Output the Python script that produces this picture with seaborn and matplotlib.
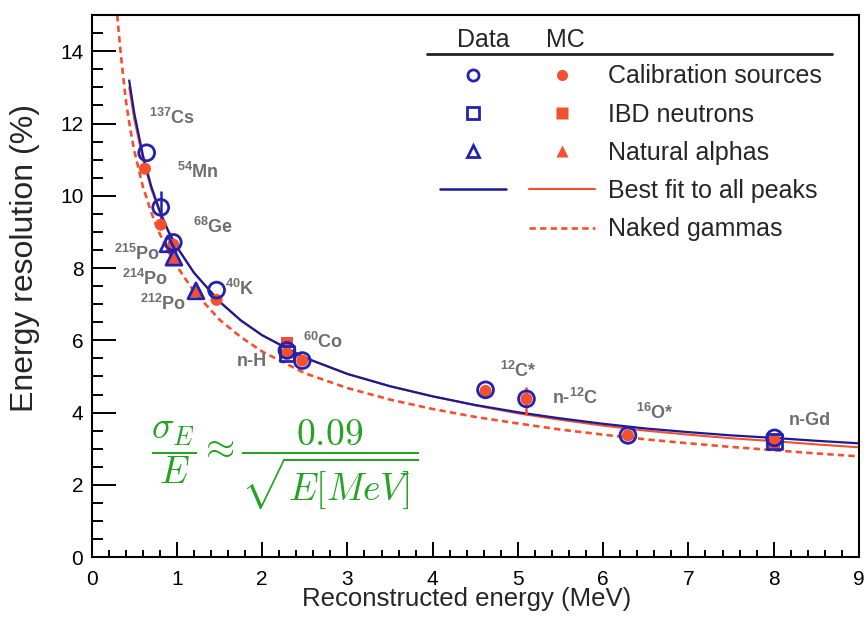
import numpy as np
import pandas as pd
import matplotlib
matplotlib.use("Agg")
import matplotlib.pyplot as plt
from matplotlib.lines import Line2D
from matplotlib.legend_handler import HandlerTuple
import seaborn as sns

# calibration sources (open = data, filled = MC)
cal_data_e = [0.645, 0.81, 0.957, 1.465, 2.29, 2.47, 4.62, 5.10, 6.29, 8.01]
cal_data_res = [11.19, 9.68, 8.71, 7.39, 5.72, 5.44, 4.63, 4.38, 3.37, 3.30]
cal_mc_e = [0.625, 0.81, 0.957, 1.465, 2.29, 2.47, 4.62, 5.10, 6.29, 8.01]
cal_mc_res = [10.75, 9.20, 8.65, 7.12, 5.65, 5.44, 4.60, 4.38, 3.37, 3.22]

# IBD neutrons
ibd_data_e = [2.29, 8.01]
ibd_data_res = [5.63, 3.20]
ibd_mc_e = [2.29, 8.01]
ibd_mc_res = [5.94, 3.18]

# natural alphas
alpha_data_e = [0.895, 0.965, 1.223]
alpha_data_res = [8.67, 8.30, 7.37]
alpha_mc_e = [0.93, 0.965, 1.223]
alpha_mc_res = [8.62, 8.28, 7.37]

# visible error bars (54Mn data, n-12C MC)
err_data_e = [0.81]
err_data_lo = [9.13]
err_data_hi = [10.14]
err_mc_e = [5.10]
err_mc_lo = [3.92]
err_mc_hi = [4.71]

# curves
fit_e = [0.44, 0.5, 0.6, 0.7, 0.8, 0.9, 1.0, 1.2, 1.5, 1.75, 2.0, 2.5, 3.0, 3.5,
         4.0, 4.5, 5.0, 5.5, 6.0, 6.5, 7.0, 7.5, 8.0, 8.5, 9.0]
fit_data = [13.19, 12.28, 11.13, 10.25, 9.57, 9.02, 8.58, 7.87, 7.07, 6.55, 6.14,
            5.52, 5.07, 4.73, 4.45, 4.21, 4.01, 3.84, 3.69, 3.56, 3.46, 3.37, 3.30,
            3.22, 3.15]
fit_mc = [13.00, 12.12, 11.02, 10.18, 9.53, 9.00, 8.58, 7.87, 7.07, 6.55, 6.14,
          5.52, 5.07, 4.73, 4.45, 4.20, 3.98, 3.80, 3.64, 3.50, 3.39, 3.29, 3.21,
          3.12, 3.04]
naked_e = [0.30, 0.33, 0.36, 0.40, 0.45, 0.5, 0.6, 0.7, 0.8, 0.9, 1.0, 1.2, 1.5,
           1.75, 2.0, 2.5, 3.0, 3.5, 4.0, 4.5, 5.0, 5.5, 6.0, 6.5, 7.0, 7.5, 8.0,
           8.5, 9.0]
naked_res = [15.0, 14.19, 13.5, 12.65, 11.88, 11.24, 10.26, 9.53, 8.94, 8.45, 8.05,
             7.35, 6.57, 6.09, 5.69, 5.09, 4.68, 4.36, 4.10, 3.88, 3.70, 3.53, 3.39,
             3.26, 3.15, 3.05, 2.96, 2.87, 2.79]

# peak labels
peak_labels = [r"$^{\mathbf{137}}$Cs", r"$^{\mathbf{54}}$Mn", r"$^{\mathbf{68}}$Ge",
               r"$^{\mathbf{215}}$Po", r"$^{\mathbf{214}}$Po", r"$^{\mathbf{212}}$Po",
               r"$^{\mathbf{40}}$K", r"$^{\mathbf{60}}$Co", "n-H",
               r"$^{\mathbf{12}}$C*", r"n-$^{\mathbf{12}}$C", r"$^{\mathbf{16}}$O*", "n-Gd"]
label_e = [0.94, 1.25, 1.42, 0.53, 0.62, 0.84, 1.74, 2.71, 1.88, 5.0, 5.67, 6.6, 8.42]
label_res = [12.15, 10.65, 9.15, 8.4, 7.7, 7.02, 7.42, 5.95, 5.42, 5.15, 4.4, 4.0, 3.78]

BLUE = "#2222b0"
NAVY = "#1a1a96"
RED = "#f4502f"
GREEN = "#22a322"
GRAY = "#6e6e6e"

sns.set_theme(style="ticks")
plt.rcParams["font.family"] = ["Liberation Sans", "DejaVu Sans"]
plt.rcParams["mathtext.fontset"] = "custom"
plt.rcParams["mathtext.rm"] = "Liberation Sans"
plt.rcParams["mathtext.bf"] = "Liberation Sans:bold"

fig = plt.figure(figsize=(8.65, 6.17), dpi=100)
ax = fig.add_axes([0.106, 0.097, 0.887, 0.8785])

# curves
sns.lineplot(x=naked_e, y=naked_res, ax=ax, color=RED, lw=1.9, linestyle=(0, (2.4, 1.6)), sort=False)
sns.lineplot(x=fit_e, y=fit_mc, ax=ax, color=RED, lw=1.5, sort=False)
sns.lineplot(x=fit_e, y=fit_data, ax=ax, color=NAVY, lw=1.6, sort=False)

# error bars
ax.vlines(err_data_e, err_data_lo, err_data_hi, color=BLUE, lw=1.8, zorder=3)
ax.vlines(err_mc_e, err_mc_lo, err_mc_hi, color=RED, lw=1.8, zorder=3)

# MC (filled)
sns.scatterplot(x=cal_mc_e, y=cal_mc_res, ax=ax, marker="o", s=75, color=RED, edgecolor="none", zorder=4)
sns.scatterplot(x=ibd_mc_e, y=ibd_mc_res, ax=ax, marker="s", s=70, color=RED, edgecolor="none", zorder=4)
sns.scatterplot(x=alpha_mc_e, y=alpha_mc_res, ax=ax, marker="^", s=80, color=RED, edgecolor="none", zorder=4)

# data (open)
sns.scatterplot(x=cal_data_e, y=cal_data_res, ax=ax, marker="o", s=130, facecolor="none",
                edgecolor=BLUE, linewidth=2.0, zorder=5)
sns.scatterplot(x=ibd_data_e, y=ibd_data_res, ax=ax, marker="s", s=110, facecolor="none",
                edgecolor=BLUE, linewidth=2.0, zorder=5)
sns.scatterplot(x=alpha_data_e, y=alpha_data_res, ax=ax, marker="^", s=130, facecolor="none",
                edgecolor=BLUE, linewidth=2.0, zorder=5)

for txt, xe, yr in zip(peak_labels, label_e, label_res):
    ax.text(xe, yr, txt, color=GRAY, fontsize=13, fontweight="bold", ha="center", va="center")

ax.text(2.27, 2.55, r"$\dfrac{\sigma_E}{E} \approx \dfrac{0.09}{\sqrt{E[MeV]}}$",
        color=GREEN, fontsize=27, ha="center", va="center", math_fontfamily="cm")

ax.set_xlim(0, 9)
ax.set_ylim(0, 15)
ax.set_xticks(np.arange(0, 10, 1))
ax.set_yticks(np.arange(0, 15, 2))
ax.set_xticks(np.arange(0, 9.01, 0.2), minor=True)
ax.set_yticks(np.arange(0, 15.01, 0.5), minor=True)
ax.tick_params(axis="both", which="both", direction="in", width=1.4, labelsize=15, colors="black")
ax.tick_params(axis="x", which="major", length=11, pad=9)
ax.tick_params(axis="x", which="minor", length=5)
ax.tick_params(axis="y", which="major", length=17, pad=6)
ax.tick_params(axis="y", which="minor", length=8)
for sp in ax.spines.values():
    sp.set_visible(True)
    sp.set_linewidth(1.5)
    sp.set_color("black")

ax.set_xlabel("Reconstructed energy (MeV)", fontsize=18.5)
ax.set_ylabel("Energy resolution (%)", fontsize=23)
ax.xaxis.set_label_coords(0.489, -0.055)
ax.yaxis.set_label_coords(-0.068, 0.552)

# legend
none = Line2D([], [], linestyle="none", marker="none")
h_cal = (Line2D([], [], ls="none", marker="o", ms=8, mfc="none", mec=BLUE, mew=2),
         Line2D([], [], ls="none", marker="o", ms=8, color=RED, mec="none"))
h_ibd = (Line2D([], [], ls="none", marker="s", ms=8, mfc="none", mec=BLUE, mew=2),
         Line2D([], [], ls="none", marker="s", ms=8, color=RED, mec="none"))
h_alp = (Line2D([], [], ls="none", marker="^", ms=8, mfc="none", mec=BLUE, mew=2),
         Line2D([], [], ls="none", marker="^", ms=8, color=RED, mec="none"))
h_fit = (Line2D([], [], color=NAVY, lw=1.8), Line2D([], [], color=RED, lw=1.5))
h_nak = (none, Line2D([], [], color=RED, lw=1.9, linestyle=(0, (2.4, 1.6))))
ax.legend([h_cal, h_ibd, h_alp, h_fit, h_nak],
          ["Calibration sources", "IBD neutrons", "Natural alphas", "Best fit to all peaks", "Naked gammas"],
          handler_map={tuple: HandlerTuple(ndivide=None, pad=0.9)},
          loc="upper left", bbox_to_anchor=(0.454, 0.909), frameon=False, fontsize=18,
          handlelength=6.2, handletextpad=0.5, labelspacing=0.57, borderpad=0, borderaxespad=0,
          numpoints=1)
ax.text(0.511, 0.955, "Data", transform=ax.transAxes, fontsize=18, ha="center", va="center")
ax.text(0.617, 0.955, "MC", transform=ax.transAxes, fontsize=18, ha="center", va="center")
ax.plot([0.437, 0.965], [0.928, 0.928], transform=ax.transAxes, color="#222222", lw=2)

fig.savefig("out.png", dpi=100)
